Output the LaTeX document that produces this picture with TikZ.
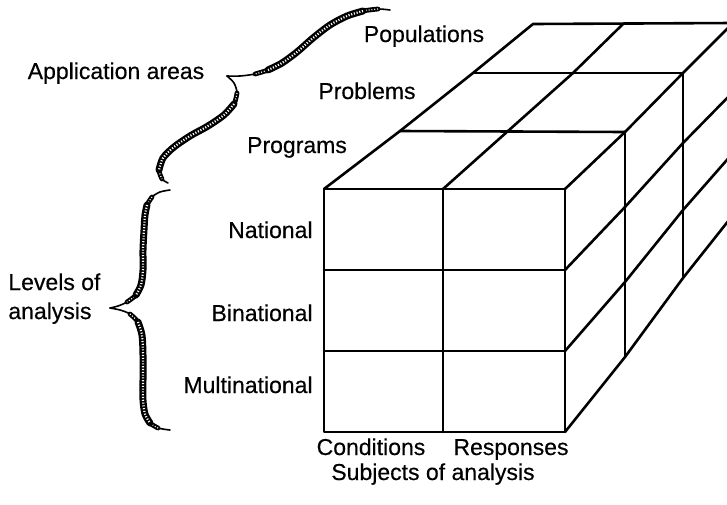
\documentclass[tikz,border=0pt]{standalone}
\usepackage{fontspec}
\setmainfont{Liberation Sans}
\newfontfamily\lblfont{Liberation Sans}[FakeBold=0.4]
\begin{document}
\begin{tikzpicture}[x=0.5pt,y=-0.5pt,
  edge/.style={line width=1.3pt, line cap=round, line join=round},
  lbl/.style={font=\lblfont\fontsize{11.5}{14.5}\selectfont, inner sep=0pt},
  bracethin/.style={line width=0.8pt, line cap=round},
  bracemid/.style={line width=2.4pt, line cap=round},
  bracethick/.style={line width=3.5pt, line cap=round},
  bracetex/.style={white, line width=1.1pt, dash pattern=on 0.55pt off 0.85pt},
  bracetexmid/.style={white, line width=0.6pt, dash pattern=on 0.5pt off 0.9pt}]
\useasboundingbox (0,0) rectangle (727,504);

% ---------- the block of cells ----------
\begin{scope}
\clip (0,0) rectangle (727,504);
% corners of the top face, layer by layer
\coordinate (A0) at (324,189); \coordinate (B0) at (443,189); \coordinate (C0) at (565,189);
\coordinate (A1) at (400,131); \coordinate (B1) at (508,131); \coordinate (C1) at (625,132);
\coordinate (A2) at (473,73);  \coordinate (B2) at (573,73);  \coordinate (C2) at (683,73);
\coordinate (A3) at (533,24);  \coordinate (B3) at (623,24);  \coordinate (C3) at (733,23);
% front face
\draw[edge] (324,189) rectangle (565,432);
\draw[edge] (443,189) -- (443,432);
\draw[edge] (324,270) -- (565,270);
\draw[edge] (324,351) -- (565,351);
% top face
\draw[edge] (A0) -- (A1) -- (A2) -- (A3) -- (C3);
\draw[edge] (B0) -- (B1) -- (B2) -- (B3);
\draw[edge] (C0) -- (C1) -- (C2) -- (C3);
\draw[edge] (A1) -- (C1);
\draw[edge] (A2) -- (C2);
% right face
\draw[edge] (C1) -- (625,357);
\draw[edge] (C2) -- (683,278);
\draw[edge] (C3) -- (733,215);
\draw[edge] (565,270) -- (625,207) -- (683,143) -- (733,92);
\draw[edge] (565,351) -- (625,282) -- (683,210) -- (733,153);
\draw[edge] (565,432) -- (625,357) -- (683,278) -- (733,215);
\end{scope}

% ---------- brace for the application areas ----------
\def\braceAup{(378,9) (363,11) (347,16) (330,25) (313,38) (297,52) (282,63) (268,70) (255,74)}
\def\braceAupcore{(363,11) (347,16) (330,25) (313,38) (297,52) (282,63) (268,70)}
\def\braceAlo{(237,93) (234,104) (224,115) (208,126) (190,136) (174,147) (163,158) (159,170) (162,179)}
\def\braceAlocore{(234,104) (224,115) (208,126) (190,136) (174,147) (163,158) (159,170)}
\draw[bracethin] plot[smooth] coordinates {(390,10) (378,9) (363,11) (347,16) (330,25) (313,38) (297,52) (282,63) (268,70) (255,74) (240,76) (227,76)};
\draw[bracemid] plot[smooth] coordinates {\braceAup};
\draw[bracetexmid] plot[smooth] coordinates {\braceAup};
\draw[bracethick] plot[smooth] coordinates {\braceAupcore};
\draw[bracetex] plot[smooth] coordinates {\braceAupcore};
\draw[bracethin] plot[smooth] coordinates {(227,76) (234,83) (237,93) (234,104) (224,115) (208,126) (190,136) (174,147) (163,158) (159,170) (162,179) (168,183)};
\draw[bracemid] plot[smooth] coordinates {\braceAlo};
\draw[bracetexmid] plot[smooth] coordinates {\braceAlo};
\draw[bracethick] plot[smooth] coordinates {\braceAlocore};
\draw[bracetex] plot[smooth] coordinates {\braceAlocore};

% ---------- brace for the levels of analysis ----------
\def\braceBup{(152,197) (147,205) (145,215) (144,230) (143,250) (143,270) (141,285) (136,295) (127,302)}
\def\braceBupcore{(147,205) (145,215) (144,230) (143,250) (143,270) (141,285) (136,295)}
\def\braceBlo{(130,314) (138,322) (142,335) (143,355) (143,380) (143,400) (145,414) (150,423) (158,428)}
\def\braceBlocore{(138,322) (142,335) (143,355) (143,380) (143,400) (145,414) (150,423)}
\draw[bracethin] plot[smooth] coordinates {(170,190) (160,192) (152,197) (147,205) (145,215) (144,230) (143,250) (143,270) (141,285) (136,295) (127,302) (118,306) (110,308)};
\draw[bracemid] plot[smooth] coordinates {\braceBup};
\draw[bracetexmid] plot[smooth] coordinates {\braceBup};
\draw[bracethick] plot[smooth] coordinates {\braceBupcore};
\draw[bracetex] plot[smooth] coordinates {\braceBupcore};
\draw[bracethin] plot[smooth] coordinates {(110,308) (120,310) (130,314) (138,322) (142,335) (143,355) (143,380) (143,400) (145,414) (150,423) (158,428) (170,430)};
\draw[bracemid] plot[smooth] coordinates {\braceBlo};
\draw[bracetexmid] plot[smooth] coordinates {\braceBlo};
\draw[bracethick] plot[smooth] coordinates {\braceBlocore};
\draw[bracetex] plot[smooth] coordinates {\braceBlocore};

% ---------- labels ----------
\node[lbl, anchor=base] (populations) at (424,42) {Populations};
\node[lbl, anchor=base] (problems) at (367,99) {Problems};
\node[lbl, anchor=base] (programs) at (297,153) {Programs};
\node[lbl, anchor=base] (apparea) at (116,79) {Application areas};
\node[lbl, anchor=base east] (national) at (313,238) {National};
\node[lbl, anchor=base east] (binational) at (313,321) {Binational};
\node[lbl, anchor=base east] (multinational) at (313,393) {Multinational};
\node[lbl, anchor=north west, align=left] (levels) at (8,273) {Levels of\\analysis};
\node[lbl, anchor=base] (conditions) at (371,455) {Conditions};
\node[lbl, anchor=base] (responses) at (511,455) {Responses};
\node[lbl, anchor=base] (subjects) at (433,480) {Subjects of analysis};
\end{tikzpicture}
\end{document}
